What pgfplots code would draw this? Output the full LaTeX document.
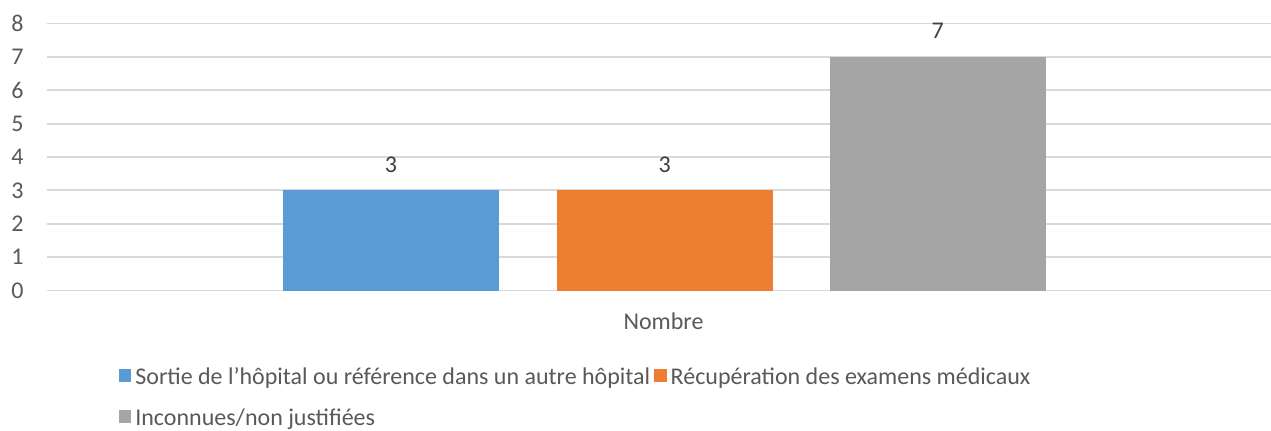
\documentclass[border=0pt]{standalone}
\usepackage{fontspec}
\setmainfont{Carlito}
\usepackage{pgfplots}
\pgfplotsset{compat=1.18}
\definecolor{cblue}{HTML}{5B9BD5}
\definecolor{corange}{HTML}{ED7D31}
\definecolor{cgray}{HTML}{A5A5A5}
\definecolor{gridgray}{HTML}{D9D9D9}
\definecolor{textgray}{HTML}{595959}
\definecolor{labelgray}{HTML}{404040}
\begin{document}
\fontsize{12}{14.4}\selectfont
\begin{tikzpicture}
\path[use as bounding box] (0,0) rectangle (635.5pt,215pt);
\begin{axis}[
  at={(23.5pt,69.75pt)}, anchor=south west,
  scale only axis, width=611.75pt, height=133.5pt,
  xmin=0, xmax=1224, ymin=0, ymax=8,
  ytick={0,...,8}, xtick=\empty,
  axis line style={draw=none},
  ymajorgrids, grid style={color=gridgray, line width=0.9pt},
  major tick length=0pt,
  yticklabel style={anchor=east, inner sep=0pt, xshift=-11.5pt, text=textgray, font=\fontsize{12}{14}\selectfont},
  /pgf/number format/assume math mode=true,
  ybar, bar width=216, bar shift=0pt,
  nodes near coords,
  nodes near coords style={anchor=base, inner sep=0pt, yshift=9pt, text=labelgray, font=\fontsize{12}{14}\selectfont},
  legend columns=2,
  legend cell align=left,
  legend image code/.code={\fill[#1] (0pt,-1.6pt) rectangle (6.2pt,4.6pt);},
  legend style={draw=none, fill=none, inner sep=0pt, outer sep=0pt,
    at={(axis description cs:0.0588,-0.284)}, anchor=north west,
    column sep=2pt, row sep=8.5pt,
    nodes={inner sep=0pt, text height=9pt, text depth=3pt, text=textgray, font=\fontsize{12}{14}\selectfont}},
  clip=false,
]
\addplot[fill=cblue, draw=none] coordinates {(344,3)};
\addplot[fill=corange, draw=none] coordinates {(618,3)};
\addplot[fill=cgray, draw=none] coordinates {(891,7)};
\legend{Sortie de l’hôpital ou référence dans un autre hôpital, Récupération des examens médicaux, Inconnues/non justifiées}
\end{axis}
\node[text=textgray, anchor=base, inner sep=0pt] at (331.75pt,50.5pt) {Nombre};
\end{tikzpicture}
\end{document}
